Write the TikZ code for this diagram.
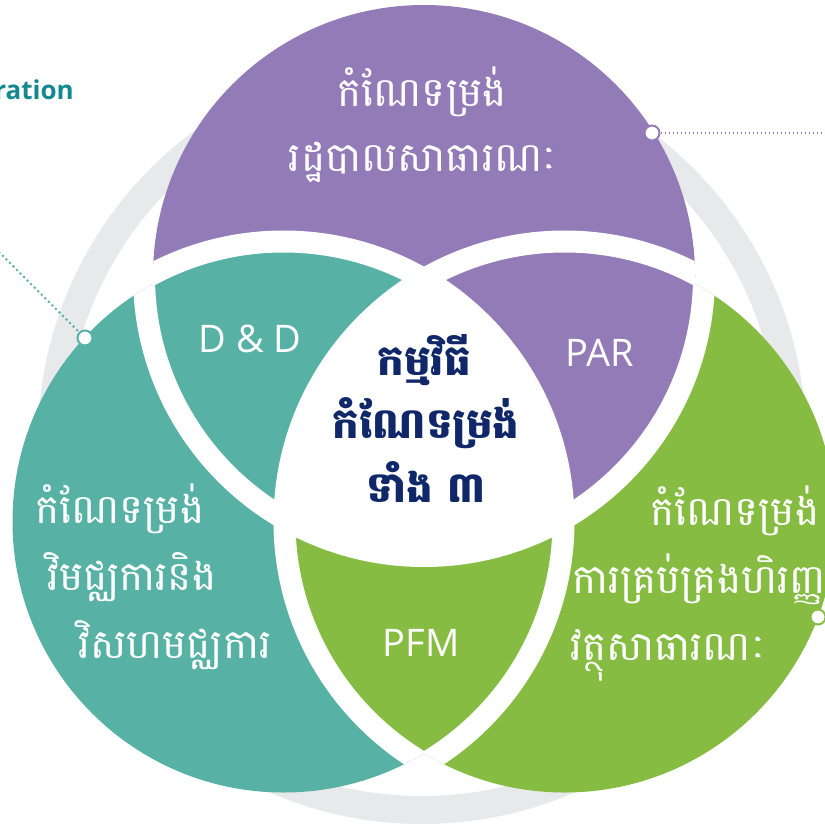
\documentclass[tikz,border=0pt]{standalone}
\usepackage{fontspec}
\setmainfont{Open Sans}
\newfontfamily\khmer[Script=Khmer]{Battambang}
\usepackage{tikz}
\usetikzlibrary{positioning}

\definecolor{lila}{RGB}{147,123,184}
\definecolor{tuerkis}{RGB}{87,177,165}
\definecolor{gruen}{RGB}{134,188,66}
\definecolor{ringgrau}{RGB}{232,233,235}
\definecolor{navy}{RGB}{16,40,105}
\definecolor{petrol}{RGB}{19,136,143}

\tikzset{
  luecke/.style={draw=white, line width=22pt},
  khtext/.style={text=white, font=\khmer\fontsize{40.5}{46}\selectfont, inner sep=0pt},
  mitte/.style={text=navy, font=\khmer\bfseries\fontsize{42}{48}\selectfont, inner sep=0pt},
  kurz/.style={text=white, font=\fontsize{38}{44}\selectfont, inner sep=0pt},
  punkt/.style={circle, fill=white, draw=#1, line width=2pt, minimum size=15pt, inner sep=0pt}
}

\begin{document}
\begin{tikzpicture}[x=1pt,y=-1pt]
\useasboundingbox (0,0) rectangle (824,826);

% Mittelpunkte
\coordinate (P) at (424,276);
\coordinate (T) at (283.5,521.5);
\coordinate (G) at (564.5,521.5);

% Ring
\draw[ringgrau, line width=28pt] (422,440) circle (370pt);

% Kreise
\fill[lila] (P) circle (271pt);
\fill[tuerkis] (T) circle (271pt);
\fill[gruen] (G) circle (271pt);
\begin{scope}
\clip (G) circle (271pt);
\fill[lila] (P) circle (271pt);
\end{scope}
\begin{scope}
\clip (P) circle (271pt);
\clip (T) circle (271pt);
\fill[white] (G) circle (271pt);
\end{scope}

% weisse Fugen
\begin{scope}
\clip (T) circle (271pt) (G) circle (271pt);
\draw[luecke] (P) circle (280pt);
\end{scope}
\begin{scope}
\clip (P) circle (271pt) (G) circle (271pt);
\draw[luecke] (T) circle (280pt);
\end{scope}
\begin{scope}
\clip (P) circle (271pt) (T) circle (271pt);
\draw[luecke] (G) circle (280pt);
\end{scope}

% Punkte und Linien
\coordinate (linksaussen) at (-12,241);
\coordinate (rechtsaussen) at (830,133);
\node[punkt=tuerkis] (pt) at (85,338) {};
\node[punkt=lila] (pl) at (652,133) {};
\node[punkt=gruen] (pg) at (818,617) {};
\draw[tuerkis, line width=2pt, dash pattern=on 2pt off 3pt] (linksaussen) -- (pt);
\draw[lila, line width=1.5pt, dash pattern=on 1.5pt off 2.5pt] (pl) -- (rechtsaussen);

% Ueberschrift (abgeschnitten)
\node[anchor=base east, text=petrol, font=\bfseries\fontsize{26}{30}\selectfont, inner sep=0pt] (ration) at (74,100) {ration};

% Texte in den Kreisen
\node[khtext, anchor=base] (lila1) at (422,107) {កំណែទម្រង់};
\node[khtext, anchor=base] (lila2) at (423,172) {រដ្ឋបាលសាធារណៈ};
\node[khtext, anchor=base west] (tk1) at (35,523) {កំណែទម្រង់};
\node[khtext, anchor=base west] (tk2) at (47,590) {វិមជ្ឈការនិង};
\node[khtext, anchor=base west] (tk3) at (78,658) {វិសហមជ្ឈការ};
\node[khtext, anchor=base west] (gr1) at (650,525) {កំណែទម្រង់};
\node[khtext, anchor=base west] (gr2) at (572,593) {ការគ្រប់គ្រងហិរញ្ញ};
\node[khtext, anchor=base west] (gr3) at (570,660) {វត្ថុសាធារណៈ};

% Schnittmengen
\node[kurz, anchor=base] (dd) at (250,352) {D \& D};
\node[kurz, anchor=base] (par) at (600,366) {PAR};
\node[kurz, anchor=base] (pfm) at (421,656) {PFM};

% Mitte
\node[mitte, anchor=base] (m1) at (424,375) {កម្មវិធី};
\node[mitte, anchor=base] (m2) at (426,438) {កំណែទម្រង់};
\node[mitte, anchor=base] (m3) at (426,502) {ទាំង ៣};
\end{tikzpicture}
\end{document}
